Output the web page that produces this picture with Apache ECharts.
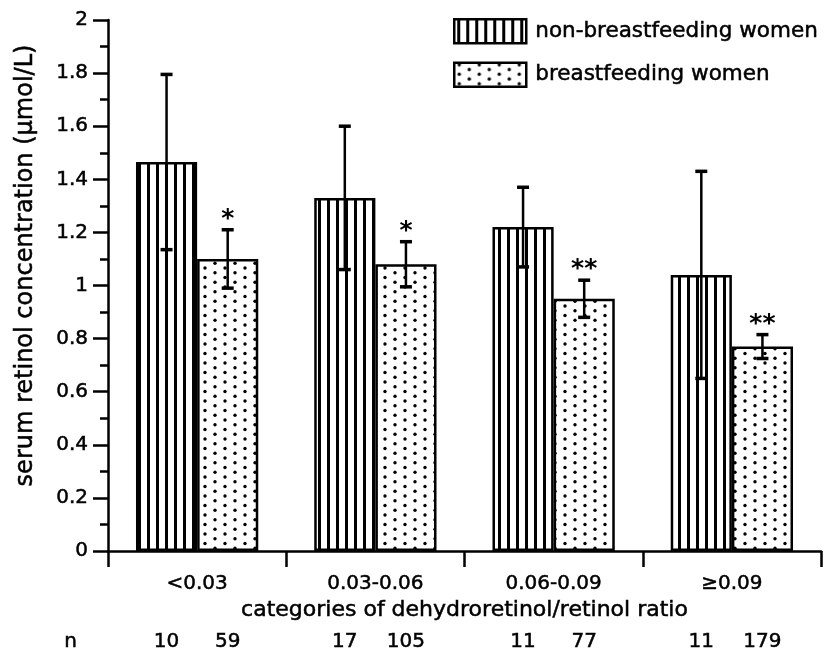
<!DOCTYPE html>
<html><head><meta charset="utf-8">
<script src="https://cdn.jsdelivr.net/npm/echarts@6/dist/echarts.min.js"></script>
<style>html,body{margin:0;padding:0;background:#fff}#c{width:825px;height:659px}</style>
</head><body><div id="c"></div>
<script>
const categories = ['<0.03', '0.03-0.06', '0.06-0.09', '\u22650.09'];
const nonBfMean = [1.465, 1.33, 1.22, 1.04];
const nonBfSd = [0.33, 0.27, 0.15, 0.39];
const bfMean = [1.10, 1.08, 0.95, 0.77];
const bfSd = [0.11, 0.085, 0.07, 0.045];
const bfStars = ['*', '*', '**', '**'];
const nonBfN = [10, 17, 11, 11];
const bfN = [59, 105, 77, 179];
const seriesNames = ['non-breastfeeding women', 'breastfeeding women'];

const FONT = "'DejaVu Sans', 'Liberation Sans', sans-serif";
const TB = { textBorderColor: '#000', textBorderWidth: 0.5 };

function stripePattern() {
  const c = document.createElement('canvas');
  c.width = 9; c.height = 9;
  const g = c.getContext('2d');
  g.fillStyle = '#fff'; g.fillRect(0, 0, 9, 9);
  g.fillStyle = '#000'; g.fillRect(3, 0, 3, 9);
  return c;
}
function dotPattern() {
  const c = document.createElement('canvas');
  c.width = 20; c.height = 19;
  const g = c.getContext('2d');
  g.fillStyle = '#fff'; g.fillRect(0, 0, 20, 19);
  g.fillStyle = '#000';
  [[5, 2], [5, 11.5], [15, 6.75], [15, 16.25]].forEach(p => {
    g.beginPath(); g.arc(p[0], p[1], 1.7, 0, Math.PI * 2); g.fill();
  });
  return c;
}
const BAR_FRAC = 0.343;

function errRender(sign, stars) {
  return function (params, api) {
    const i = api.value(0), v = api.value(1), sd = api.value(2);
    const band = api.size([1, 0])[0];
    const bw = band * BAR_FRAC;
    const cx = api.coord([i, v])[0] + sign * bw / 2;
    const yT = api.coord([i, v + sd])[1];
    const yB = api.coord([i, v - sd])[1];
    const children = [
      { type: 'line', shape: { x1: cx, y1: yT, x2: cx, y2: yB }, style: { stroke: '#000', lineWidth: 2.5 } },
      { type: 'line', shape: { x1: cx - 6, y1: yT, x2: cx + 6, y2: yT }, style: { stroke: '#000', lineWidth: 3.5 } },
      { type: 'line', shape: { x1: cx - 6, y1: yB, x2: cx + 6, y2: yB }, style: { stroke: '#000', lineWidth: 3.5 } }
    ];
    if (stars) {
      children.push({ type: 'text', style: { text: stars[i], x: cx, y: yT + 2, align: 'center', verticalAlign: 'bottom', font: 'bold 25px ' + FONT, fill: '#000' } });
    }
    return { type: 'group', children };
  };
}

const chart = echarts.init(document.getElementById('c'), null, { renderer: 'canvas' });
chart.setOption({
  animation: false,
  backgroundColor: '#fff',
  textStyle: { fontFamily: FONT, color: '#000' },
  grid: { left: 108, right: 4, top: 20, bottom: 108 },
  legend: {
    orient: 'vertical', left: 453, top: 18, itemGap: 17, padding: 0,
    itemWidth: 72, itemHeight: 24, icon: 'rect',
    data: seriesNames,
    itemStyle: { borderColor: '#000', borderWidth: 2.5 },
    textStyle: Object.assign({ fontSize: 21.5, color: '#000', fontFamily: FONT, padding: [0, 0, 0, 4] }, TB)
  },
  xAxis: {
    type: 'category', data: categories,
    axisLine: { lineStyle: { color: '#000', width: 2.5 } },
    axisTick: { show: true, length: 16, lineStyle: { color: '#000', width: 2.5 } },
    axisLabel: Object.assign({ color: '#000', fontSize: 20, margin: 23, fontFamily: FONT }, TB),
    name: 'categories of dehydroretinol/retinol ratio',
    nameLocation: 'middle', nameGap: 48,
    nameTextStyle: Object.assign({ fontSize: 22, color: '#000', fontFamily: FONT }, TB)
  },
  yAxis: {
    type: 'value', min: 0, max: 2, interval: 0.2,
    axisLine: { show: true, lineStyle: { color: '#000', width: 2.5 } },
    axisTick: { show: true, length: 15, lineStyle: { color: '#000', width: 2.5 } },
    minorTick: { show: true, splitNumber: 2, length: 8, lineStyle: { color: '#000', width: 2.5 } },
    splitLine: { show: false },
    axisLabel: Object.assign({ color: '#000', fontSize: 20, margin: 20, fontFamily: FONT, formatter: v => String(+v.toFixed(1)) }, TB),
    name: 'serum retinol concentration (\u00b5mol/L)',
    nameLocation: 'middle', nameGap: 70, nameRotate: 90,
    nameTextStyle: Object.assign({ fontSize: 24, color: '#000', fontFamily: FONT, padding: [0, 0, 0, 40] }, TB)
  },
  graphic: [
    { type: 'text', left: 64, top: 632, style: Object.assign({ text: 'n', font: '20px ' + FONT, fill: '#000' }, { stroke: '#000', lineWidth: 0.5 }) }
  ],
  series: [
    {
      name: seriesNames[0], type: 'bar', data: nonBfMean,
      barWidth: (BAR_FRAC * 100) + '%', barGap: '0%',
      itemStyle: { color: { image: stripePattern(), repeat: 'repeat' }, borderColor: '#000', borderWidth: 2.5 },
      label: Object.assign({ show: true, position: 'bottom', distance: 81, color: '#000', fontSize: 20, fontFamily: FONT, formatter: p => String(nonBfN[p.dataIndex]) }, TB)
    },
    {
      name: seriesNames[1], type: 'bar', data: bfMean,
      barWidth: (BAR_FRAC * 100) + '%', barGap: '0%',
      itemStyle: { color: { image: dotPattern(), repeat: 'repeat' }, borderColor: '#000', borderWidth: 2.5 },
      label: Object.assign({ show: true, position: 'bottom', distance: 81, color: '#000', fontSize: 20, fontFamily: FONT, formatter: p => String(bfN[p.dataIndex]) }, TB)
    },
    {
      name: 'err-non', type: 'custom', z: 5, clip: false,
      renderItem: errRender(-1, null),
      data: nonBfMean.map((v, i) => [i, v, nonBfSd[i]])
    },
    {
      name: 'err-bf', type: 'custom', z: 5, clip: false,
      renderItem: errRender(1, bfStars),
      data: bfMean.map((v, i) => [i, v, bfSd[i]])
    }
  ]
});
</script>
</body></html>
